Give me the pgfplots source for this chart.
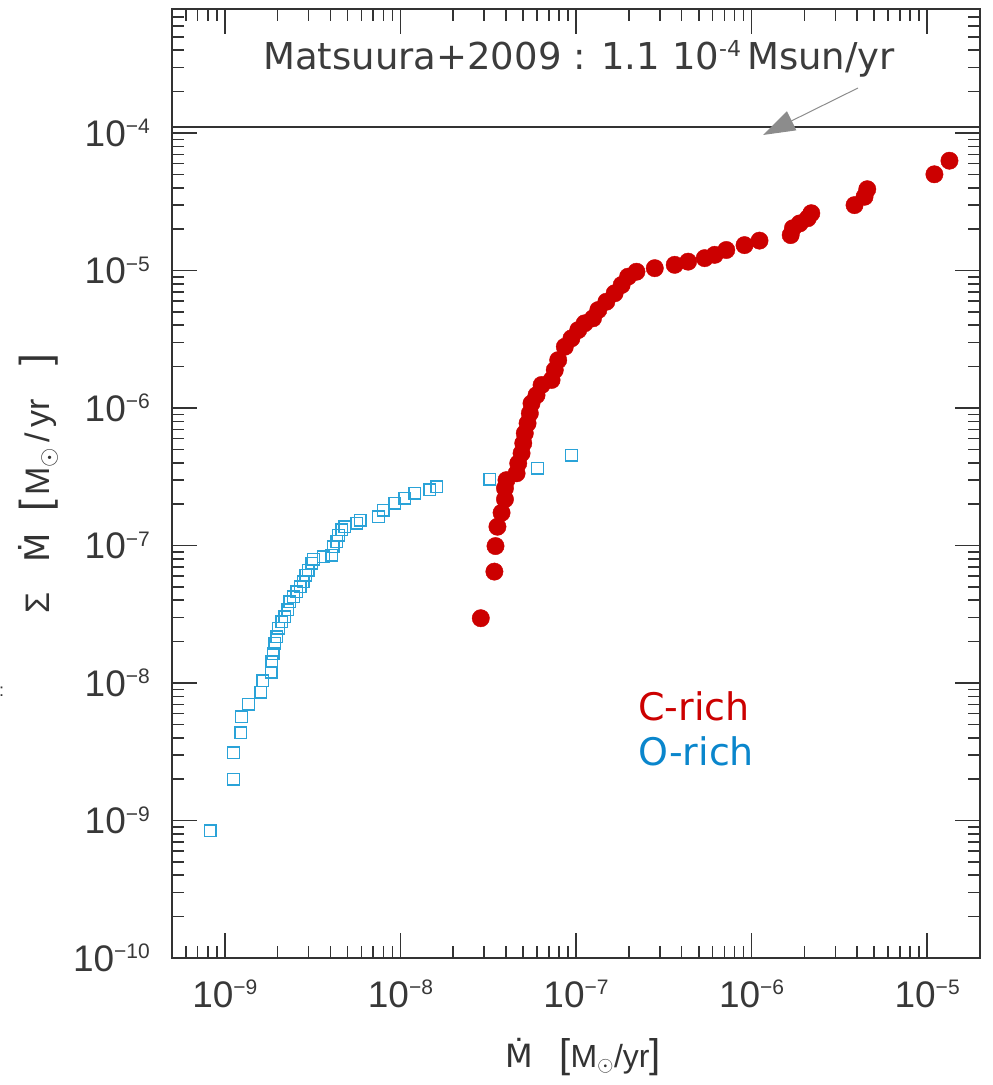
\documentclass[border=0pt]{standalone}
\usepackage{fontspec}
\setmainfont{Liberation Sans}
\newfontfamily\dejavu{DejaVu Sans}
\usepackage{pgfplots}
\pgfplotsset{compat=1.18}
\usetikzlibrary{arrows.meta}
\definecolor{cred}{HTML}{CC0000}
\definecolor{cblue}{HTML}{0A86CC}
\definecolor{mblue}{HTML}{2AA3D8}
\definecolor{frame}{HTML}{333333}
\definecolor{anno}{HTML}{3C3C3C}
\newcommand\Mdot{{\dejavu Ṁ}}
\newcommand\tl[1]{10\raisebox{12.5pt}{\fontsize{21}{21}\selectfont −#1}}

\pgfplotstableread{
x y
8.24e-10 8.43e-10
1.12e-9 2.00e-9
1.12e-9 3.11e-9
1.23e-9 4.35e-9
1.245e-9 5.69e-9
1.365e-9 7.03e-9
1.60e-9 8.55e-9
1.645e-9 1.04e-8
1.835e-9 1.20e-8
1.85e-9 1.43e-8
1.89e-9 1.64e-8
1.93e-9 1.95e-8
1.98e-9 2.17e-8
2.02e-9 2.50e-8
2.11e-9 2.79e-8
2.20e-9 3.03e-8
2.28e-9 3.40e-8
2.35e-9 3.90e-8
2.46e-9 4.25e-8
2.57e-9 4.61e-8
2.68e-9 5.01e-8
2.80e-9 5.45e-8
2.89e-9 6.10e-8
2.99e-9 6.63e-8
3.13e-9 7.43e-8
3.20e-9 7.94e-8
3.65e-9 8.30e-8
4.06e-9 8.53e-8
4.15e-9 9.79e-8
4.34e-9 1.07e-7
4.44e-9 1.19e-7
4.63e-9 1.30e-7
4.83e-9 1.37e-7
5.64e-9 1.45e-7
5.89e-9 1.53e-7
7.50e-9 1.62e-7
8.00e-9 1.81e-7
9.31e-9 2.03e-7
1.06e-8 2.21e-7
1.21e-8 2.40e-7
1.47e-8 2.54e-7
1.61e-8 2.68e-7
3.23e-8 3.03e-7
6.04e-8 3.64e-7
9.42e-8 4.55e-7
}\orich

\pgfplotstableread{
x y
2.87e-8 2.96e-8
3.43e-8 6.46e-8
3.48e-8 9.91e-8
3.57e-8 1.37e-7
3.77e-8 1.73e-7
3.94e-8 2.17e-7
3.94e-8 2.61e-7
4.02e-8 2.99e-7
4.59e-8 3.35e-7
4.69e-8 3.96e-7
4.90e-8 4.69e-7
5.01e-8 5.54e-7
5.11e-8 6.55e-7
5.30e-8 7.74e-7
5.46e-8 9.15e-7
5.58e-8 1.08e-6
5.96e-8 1.24e-6
6.37e-8 1.47e-6
7.26e-8 1.60e-6
7.57e-8 1.89e-6
7.92e-8 2.23e-6
8.64e-8 2.79e-6
9.42e-8 3.21e-6
1.03e-7 3.69e-6
1.12e-7 4.13e-6
1.25e-7 4.49e-6
1.34e-7 5.16e-6
1.49e-7 5.93e-6
1.66e-7 6.83e-6
1.82e-7 7.85e-6
1.98e-7 9.02e-6
2.21e-7 9.80e-6
2.81e-7 1.04e-5
3.65e-7 1.10e-5
4.35e-7 1.16e-5
5.41e-7 1.23e-5
6.17e-7 1.30e-5
7.18e-7 1.41e-5
9.12e-7 1.53e-5
1.11e-6 1.65e-5
1.67e-6 1.81e-5
1.72e-6 2.03e-5
1.88e-6 2.20e-5
2.09e-6 2.40e-5
2.19e-6 2.61e-5
3.86e-6 2.99e-5
4.40e-6 3.44e-5
4.56e-6 3.90e-5
1.10e-5 5.01e-5
1.34e-5 6.29e-5
}\crich

\begin{document}
\begin{tikzpicture}[x=1pt,y=1pt]
\useasboundingbox (0,0) rectangle (993,1085);
\begin{axis}[
  at={(172pt,127pt)}, anchor=south west,
  scale only axis, width=808pt, height=949pt,
  xmode=log, ymode=log,
  xmin=5e-10, xmax=2e-5, ymin=1e-10, ymax=7.98e-4,
  axis line style={frame, line width=2.2pt},
  every tick/.style={frame, line width=1.6pt},
  tick align=inside,
  major tick length=25pt, minor tick length=12pt,
  xtick={1e-9,1e-8,1e-7,1e-6,1e-5},
  xticklabels={\tl{9},\tl{8},\tl{7},\tl{6},\tl{5}},
  ytick={1e-10,1e-9,1e-8,1e-7,1e-6,1e-5,1e-4},
  yticklabels={\tl{10},\tl{9},\tl{8},\tl{7},\tl{6},\tl{5},\tl{4}},
  minor xtick={6e-10,7e-10,8e-10,9e-10,2e-9,3e-9,4e-9,5e-9,6e-9,7e-9,8e-9,9e-9,2e-8,3e-8,4e-8,5e-8,6e-8,7e-8,8e-8,9e-8,2e-7,3e-7,4e-7,5e-7,6e-7,7e-7,8e-7,9e-7,2e-6,3e-6,4e-6,5e-6,6e-6,7e-6,8e-6,9e-6},
  minor ytick={2e-10,3e-10,4e-10,5e-10,6e-10,7e-10,8e-10,9e-10,2e-9,3e-9,4e-9,5e-9,6e-9,7e-9,8e-9,9e-9,2e-8,3e-8,4e-8,5e-8,6e-8,7e-8,8e-8,9e-8,2e-7,3e-7,4e-7,5e-7,6e-7,7e-7,8e-7,9e-7,2e-6,3e-6,4e-6,5e-6,6e-6,7e-6,8e-6,9e-6,2e-5,3e-5,4e-5,5e-5,6e-5,7e-5,8e-5,9e-5,2e-4,3e-4,4e-4,5e-4,6e-4,7e-4},
  tick label style={font=\fontsize{37}{37}\selectfont, text=black!78, inner sep=0pt},
  xticklabel style={anchor=base, yshift=-49pt},
  yticklabel style={anchor=base east, xshift=-22pt, yshift=-13pt},
  clip=false,
]
\addplot[frame, line width=1.8pt, forget plot] coordinates {(5e-10,1.1e-4) (2e-5,1.1e-4)};
\addplot[only marks, mark=*, mark size=8.7pt, color=cred, fill=cred] table[x=x,y=y] {\crich};
\addplot[only marks, mark=square, mark size=5.8pt, color=mblue, line width=1.4pt] table[x=x,y=y] {\orich};
\end{axis}
\draw[color=gray!90, line width=1pt, -{Triangle[length=32pt,width=21pt]}] (858,997) -- (763,950);
\node[anchor=base west, inner sep=0pt, text=anno, font=\dejavu\fontsize{37}{37}\selectfont] at (263,1015)
  {Matsuura+2009 : 1.1 10\raisebox{13pt}{\fontsize{22}{22}\selectfont -4}\,Msun/yr};
\node[anchor=base west, inner sep=0pt, text=cred, font=\dejavu\fontsize{38}{38}\selectfont] at (638,364) {C-rich};
\node[anchor=base west, inner sep=0pt, text=cblue, font=\dejavu\fontsize{38}{38}\selectfont] at (638,319) {O-rich};
\node[anchor=base, inner sep=0pt, text=black!80, font=\fontsize{32}{32}\selectfont] at (583,17)
  {\Mdot\ \ \ {\fontsize{40}{40}\selectfont[}M$_{\odot}$/yr{\fontsize{40}{40}\selectfont]}};
\node[rotate=90, anchor=base, inner sep=0pt, text=black!80, font=\fontsize{34}{34}\selectfont] at (50,601)
  {Σ\hspace{30pt}\Mdot\hspace{22pt}{\fontsize{42}{42}\selectfont[}\hspace{4pt}M$_{\odot}$\,/\,yr\hspace{33pt}{\fontsize{42}{42}\selectfont]}};
\node[anchor=base west, inner sep=0pt, text=black!80, font=\fontsize{18}{18}\selectfont] at (-1,388) {:};
\end{tikzpicture}
\end{document}
